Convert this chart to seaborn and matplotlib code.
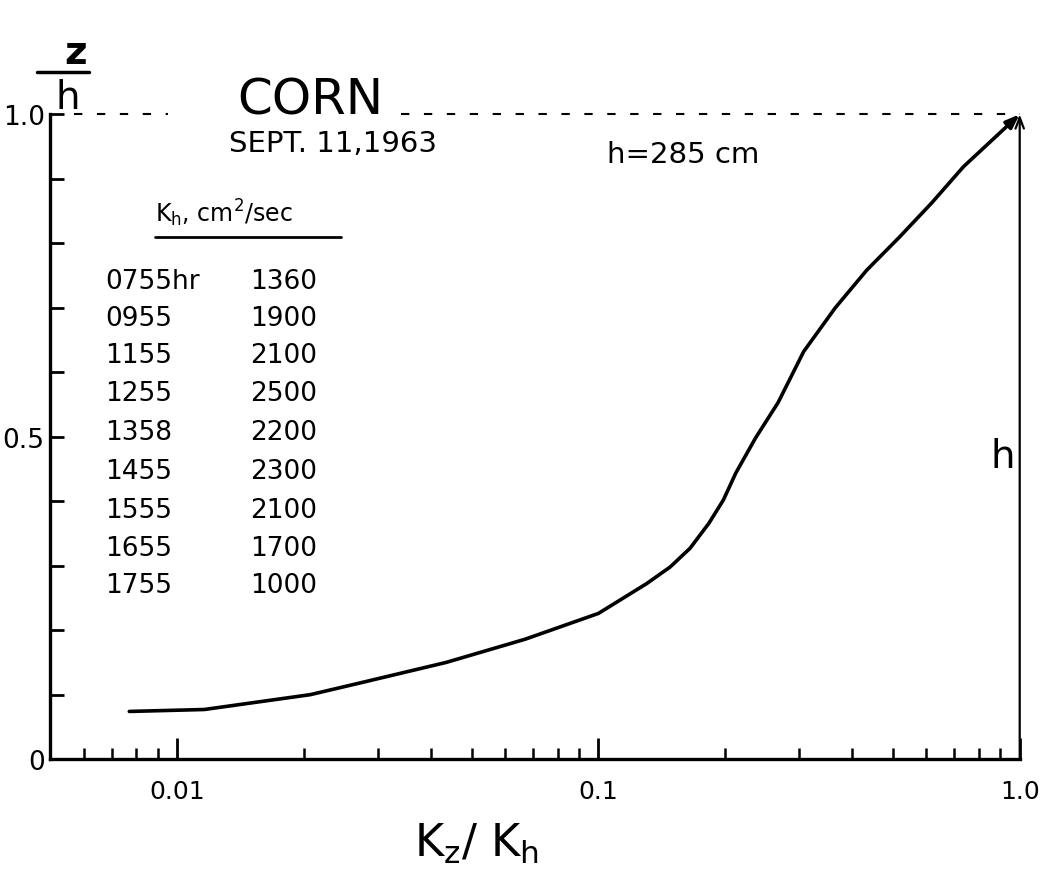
import matplotlib
matplotlib.use("Agg")
import matplotlib.pyplot as plt
import seaborn as sns
from matplotlib.lines import Line2D

# curve: Kz/Kh against z/h
kz_kh = [0.0077, 0.0116, 0.0207, 0.0267, 0.0435, 0.067, 0.1, 0.13, 0.148, 0.165,
         0.183, 0.198, 0.212, 0.236, 0.267, 0.307, 0.365, 0.433, 0.519, 0.619,
         0.736, 0.883, 1.0]
z_h = [0.074, 0.077, 0.100, 0.117, 0.150, 0.186, 0.226, 0.272, 0.298, 0.327,
       0.366, 0.402, 0.444, 0.498, 0.553, 0.632, 0.700, 0.758, 0.810, 0.863,
       0.919, 0.967, 1.0]

# Kh table
times = ["0755hr", "0955", "1155", "1255", "1358", "1455", "1555", "1655", "1755"]
kh_values = ["1360", "1900", "2100", "2500", "2200", "2300", "2100", "1700", "1000"]

canopy_height = 1.0   # z/h at top of canopy
h_ref = 1.0           # Kz/Kh position of the h arrow

sns.set_style("ticks")
plt.rcParams["font.family"] = ["DejaVu Sans"]
for key in ["text.color", "axes.edgecolor", "axes.labelcolor",
            "xtick.color", "ytick.color"]:
    plt.rcParams[key] = "black"

fig = plt.figure(figsize=(10.48, 8.87), dpi=100)
ax = fig.add_axes([0.048, 0.143, 0.925, 0.727])

sns.lineplot(x=kz_kh[:-1], y=z_h[:-1], color="black", linewidth=2.6, ax=ax,
             estimator=None, sort=False)
# last bit of the curve ends with an arrow head
ax.annotate("", xy=(kz_kh[-1], z_h[-1]), xytext=(kz_kh[-2], z_h[-2]),
            arrowprops=dict(arrowstyle="-|>,head_length=0.8,head_width=0.3",
                            color="black", lw=2.6, shrinkA=0, shrinkB=0),
            annotation_clip=False)
# vertical h arrow
ax.annotate("", xy=(h_ref, canopy_height), xytext=(h_ref, 0),
            arrowprops=dict(arrowstyle="->,head_length=0.8,head_width=0.3",
                            color="black", lw=1.6, shrinkA=0, shrinkB=0),
            annotation_clip=False)
ax.text(0.91, 0.47, "h", fontsize=28, ha="center", va="center")

# dashed line at canopy top
ax.plot([0.0057, 0.0095], [canopy_height] * 2, color="black", lw=1.5,
        ls=(0, (4, 7)), clip_on=False)
ax.plot([0.034, h_ref], [canopy_height] * 2, color="black", lw=1.5,
        ls=(0, (4, 7)), clip_on=False)

ax.set_xscale("log")
ax.set_xlim(0.005, 1.0)
ax.set_ylim(0, 1.0)
ax.set_xticks([0.01, 0.1, 1.0])
ax.set_xticklabels(["0.01", "0.1", "1.0"])
ax.set_yticks([i / 10 for i in range(11)])
ax.set_yticklabels(["0" if i == 0 else ("0.5" if i == 5 else ("1.0" if i == 10 else ""))
                    for i in range(11)])
ax.tick_params(axis="x", which="major", direction="in", length=15, width=2,
               labelsize=18, pad=14)
ax.tick_params(axis="x", which="minor", direction="in", length=8, width=1.8)
ax.tick_params(axis="y", direction="in", length=10, width=2, labelsize=19, pad=4)
sns.despine(ax=ax)
for s in ["left", "bottom"]:
    ax.spines[s].set_linewidth(2.4)

ax.set_xlabel(r"K$_\mathrm{z}$/ K$_\mathrm{h}$", fontsize=32)
ax.xaxis.set_label_coords(0.44, -0.095)
ax.set_ylabel("")

# z/h label at top left
fig.text(0.072, 0.940, "z", fontsize=28, fontweight="bold", ha="center", va="center")
fig.add_artist(Line2D([0.035, 0.085], [0.918, 0.918], color="black", lw=2.5))
fig.text(0.065, 0.890, "h", fontsize=28, ha="center", va="center")

# titles
fig.text(0.296, 0.887, "CORN", fontsize=36, ha="center", va="center")
fig.text(0.318, 0.838, "SEPT. 11,1963", fontsize=21, ha="center", va="center")
fig.text(0.652, 0.825, "h=285 cm", fontsize=21, ha="center", va="center")

# Kh table
fig.text(0.148, 0.760, r"K$_\mathrm{h}$, cm$^2$/sec", fontsize=17, ha="left", va="center")
fig.add_artist(Line2D([0.148, 0.325], [0.732, 0.732], color="black", lw=2))
row_y = [282, 319, 356, 394, 433, 472, 511, 549, 586]
for t, k, yy in zip(times, kh_values, row_y):
    fig.text(0.100, 1 - yy / 887, t, fontsize=19, ha="left", va="center")
    fig.text(0.303, 1 - yy / 887, k, fontsize=19, ha="right", va="center")

fig.savefig("out.png", dpi=100)
